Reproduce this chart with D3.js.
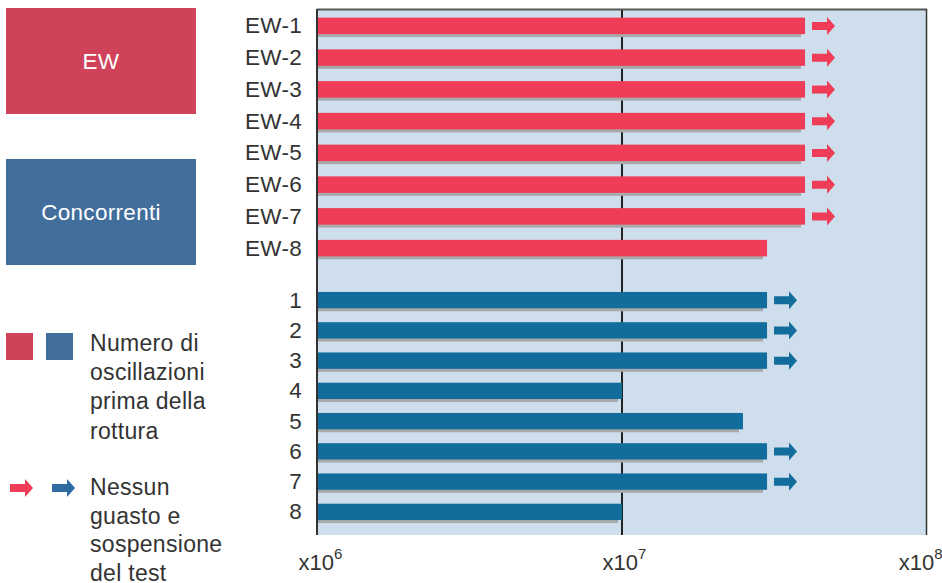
<!DOCTYPE html>
<html><head><meta charset="utf-8">
<script src="https://cdn.jsdelivr.net/npm/d3@7"></script>
<style>
body{margin:0;background:#fff;}
text{font-family:"Liberation Sans",Arial,Helvetica,sans-serif;}
</style></head>
<body><svg id="c" width="942" height="583"></svg>
<script>
const ewCats = ["EW-1","EW-2","EW-3","EW-4","EW-5","EW-6","EW-7","EW-8"];
const ewValues = [4e7,4e7,4e7,4e7,4e7,4e7,4e7,3e7];
const ewSuspended = [true,true,true,true,true,true,true,false];
const compCats = ["1","2","3","4","5","6","7","8"];
const compValues = [3e7,3e7,3e7,1e7,2.5e7,3e7,3e7,1e7];
const compSuspended = [true,true,true,false,false,true,true,false];
const xTicks = [1e6,1e7,1e8];
const xTickExp = ["6","7","8"];
const legendBoxes = ["EW","Concorrenti"];
const legendText1 = ["Numero di","oscillazioni","prima della","rottura"];
const legendText2 = ["Nessun","guasto e","sospensione","del test"];

const red = "#ef3d58", blue = "#126c9c";
const FONT = "Liberation Sans, Arial, sans-serif";
const svg = d3.select("#c");
const x = d3.scaleLog().domain([1e6,1e8]).range([318,926]);
const yEW = d3.scaleBand().domain(ewCats).range([10,264]).paddingInner(0.48).paddingOuter(0.24);
const yC = d3.scaleBand().domain(compCats).range([285,527]).paddingInner(0.46).paddingOuter(0.23);

// plot background
svg.append("rect").attr("x",x(1e6)).attr("y",9.5).attr("width",x(1e8)-x(1e6)).attr("height",535-9.5).attr("fill","#cedeed");
// reference line at 1e7
svg.append("line").attr("x1",x(1e7)).attr("x2",x(1e7)).attr("y1",9.5).attr("y2",535).attr("stroke","#222").attr("stroke-width",2);

function arrow(g, x0, yc, color){
  const p = [[x0,yc-4],[x0+15,yc-4],[x0+15,yc-9],[x0+23,yc],[x0+15,yc+9],[x0+15,yc+4],[x0,yc+4]];
  g.append("path").attr("d","M"+p.map(d=>d.join(",")).join("L")+"Z").attr("fill",color);
}

function drawGroup(cats, vals, susp, y, color){
  const g = svg.append("g");
  cats.forEach((c,i)=>{
    const y0 = y(c), h = y.bandwidth();
    g.append("rect").attr("x",x(1e6)).attr("y",y0+3).attr("width",x(vals[i])-x(1e6)-4).attr("height",h).attr("fill","#a8a9ab");
    g.append("rect").attr("x",x(1e6)).attr("y",y0).attr("width",x(vals[i])-x(1e6)).attr("height",h).attr("fill",color);
    if(susp[i]) arrow(g, x(vals[i])+7, y0+h/2, color);
  });
  const ax = svg.append("g").attr("transform","translate(302,0)").call(d3.axisLeft(y).tickSize(0).tickPadding(0));
  ax.select(".domain").remove();
  ax.selectAll("text").attr("font-size",22.5).attr("fill","#333").attr("font-family",FONT).attr("dy","0.33em").attr("letter-spacing","0.3");
}
drawGroup(ewCats, ewValues, ewSuspended, yEW, red);
drawGroup(compCats, compValues, compSuspended, yC, blue);

// borders
svg.append("line").attr("x1",317).attr("x2",927).attr("y1",9.5).attr("y2",9.5).attr("stroke","#555").attr("stroke-width",2);
svg.append("line").attr("x1",317).attr("x2",317).attr("y1",9).attr("y2",535).attr("stroke","#333").attr("stroke-width",2);
svg.append("line").attr("x1",926.5).attr("x2",926.5).attr("y1",9).attr("y2",535).attr("stroke","#333").attr("stroke-width",1.5);

// x axis
const xa = svg.append("g").attr("transform","translate(0,570)").call(d3.axisBottom(x).tickValues(xTicks).tickSize(0).tickPadding(0).tickFormat(""));
xa.select(".domain").remove();
xa.selectAll(".tick").each(function(d,i){
  const t = d3.select(this).select("text").text(null).attr("font-size",22).attr("fill","#333")
    .attr("font-family",FONT).attr("y",0).attr("dy",0).attr("text-anchor", i===2 ? "end":"middle")
    .attr("x", i===2 ? 16 : 2);
  t.append("tspan").text("x10");
  t.append("tspan").text(xTickExp[i]).attr("font-size",15).attr("dy","-0.75em");
});

// legend boxes
const boxColors = ["#cf4259","#426e9c"];
legendBoxes.forEach((l,i)=>{
  const by = i===0 ? 8 : 159;
  svg.append("rect").attr("x",6).attr("y",by).attr("width",190).attr("height",106).attr("fill",boxColors[i]);
  svg.append("text").attr("x",101).attr("y",by+53).attr("dy","0.35em").attr("text-anchor","middle").attr("fill","#fff").attr("font-size",22.5).attr("letter-spacing","0.3").text(l);
});
svg.append("rect").attr("x",6).attr("y",333).attr("width",27).attr("height",27).attr("fill","#cf4259");
svg.append("rect").attr("x",46).attr("y",333).attr("width",27).attr("height",27).attr("fill","#426e9c");
legendText1.forEach((t,i)=>svg.append("text").attr("x",90).attr("y",351+i*29.2).attr("font-size",23).attr("letter-spacing","0.3").attr("fill","#333").text(t));
const lg = svg.append("g");
arrow(lg, 10, 488, red);
arrow(lg, 52, 488, "#2f6aa0");
legendText2.forEach((t,i)=>svg.append("text").attr("x",90).attr("y",495+i*28.7).attr("font-size",23).attr("letter-spacing","0.3").attr("fill","#333").text(t));
</script></body></html>
